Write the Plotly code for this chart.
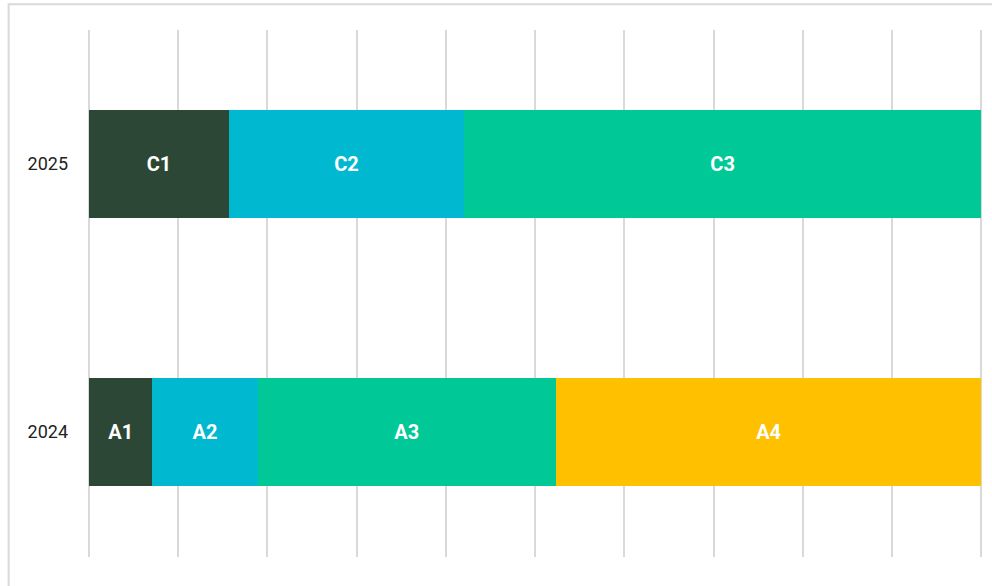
import plotly.graph_objects as go

years = ["2024", "2025"]
segment_names = ["1", "2", "3", "4"]
labels_2024 = ["A1", "A2", "A3", "A4"]
labels_2025 = ["C1", "C2", "C3"]
values_2024 = [7.1, 11.8, 33.4, 47.7]
values_2025 = [15.7, 26.3, 58.0]
colors = ["#2C4736", "#00B8D0", "#00C896", "#FFC000"]

fig = go.Figure()
for i in range(4):
    xs, ys, ts = [], [], []
    if i < len(values_2024):
        xs.append(values_2024[i]); ys.append(years[0]); ts.append(labels_2024[i])
    if i < len(values_2025):
        xs.append(values_2025[i]); ys.append(years[1]); ts.append(labels_2025[i])
    fig.add_trace(go.Bar(
        x=xs, y=ys, orientation="h", text=ts,
        marker=dict(color=colors[i], line=dict(width=0)),
        textposition="inside", insidetextanchor="middle", textangle=0,
        textfont=dict(family="Roboto", size=20, color="white", weight="bold"),
        hoverinfo="skip", name=segment_names[i], showlegend=False,
        width=0.403,
    ))

fig.update_layout(
    barmode="stack",
    width=992, height=586,
    margin=dict(l=89, r=7, t=30, b=29),
    paper_bgcolor="white", plot_bgcolor="white",
    font=dict(family="Roboto", size=18, color="#222222"),
    xaxis=dict(range=[0, 100.4], dtick=10, showgrid=True, gridcolor="#D9D9D9",
               gridwidth=2, showticklabels=False, zeroline=True, zerolinecolor="#D9D9D9",
               zerolinewidth=2, showline=False, ticks=""),
    yaxis=dict(type="category", range=[-0.466, 1.5], showgrid=False, zeroline=False,
               showline=False, ticks="", ticklabelstandoff=20,
               tickfont=dict(family="Roboto", size=18, color="#222222")),
    shapes=[dict(type="rect", xref="paper", yref="paper", x0=-0.0897, x1=1.2,
                 y0=-0.3, y1=1.049, line=dict(color="#D9D9D9", width=2), layer="below")],
)

fig.write_html("out.html", config={"displayModeBar": False},
               post_script="document.body.style.margin='0';")
